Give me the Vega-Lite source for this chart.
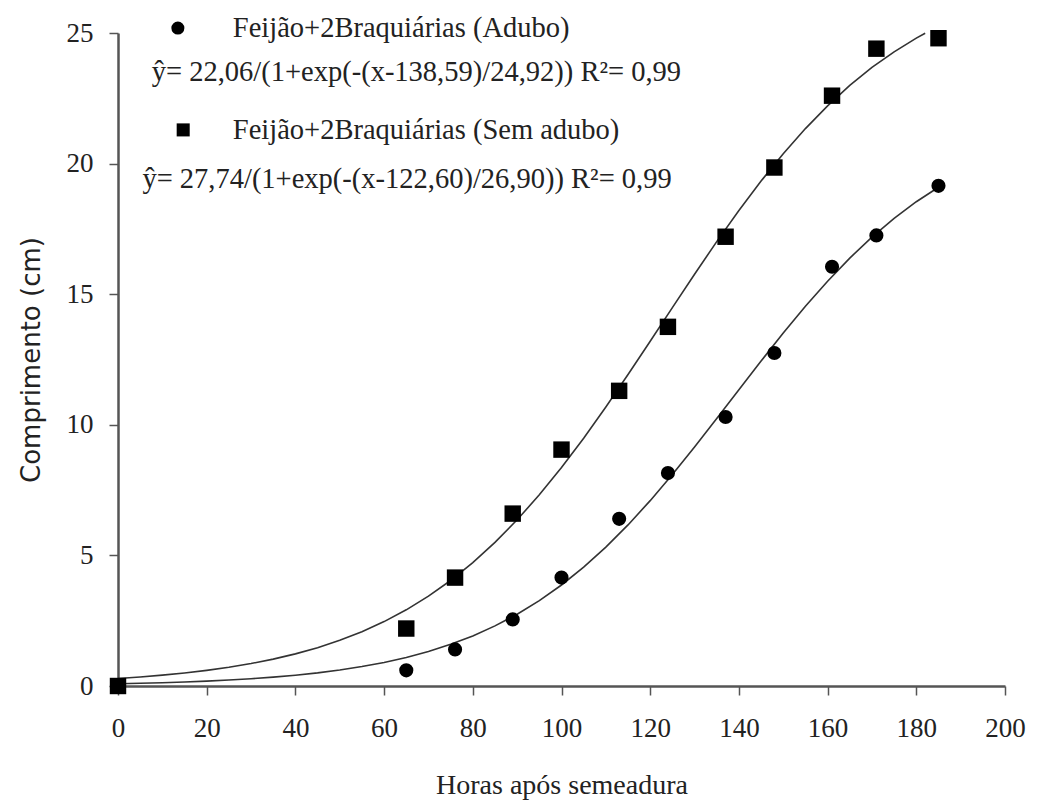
{
  "$schema": "https://vega.github.io/schema/vega-lite/v6.json",
  "width": 887,
  "height": 653,
  "autosize": {"type": "none"},
  "padding": {"left": 118, "top": 33, "right": 36, "bottom": 117},
  "background": "white",
  "config": {
    "view": {"stroke": null},
    "axis": {"grid": false, "domainColor": "#555", "domainWidth": 2.5, "tickColor": "#555", "tickWidth": 1.5, "tickSize": 9, "labelFont": "'Liberation Serif', 'Times New Roman', serif", "labelFontSize": 27, "labelColor": "#222", "titleColor": "#222", "titleFontWeight": "normal", "labelFlush": false}
  },
  "datasets": {
    "pts": [
      {"x": 0, "y": 0, "s": "Sem adubo"},
      {"x": 65, "y": 2.2, "s": "Sem adubo"},
      {"x": 76, "y": 4.15, "s": "Sem adubo"},
      {"x": 89, "y": 6.6, "s": "Sem adubo"},
      {"x": 100, "y": 9.05, "s": "Sem adubo"},
      {"x": 113, "y": 11.3, "s": "Sem adubo"},
      {"x": 124, "y": 13.75, "s": "Sem adubo"},
      {"x": 137, "y": 17.2, "s": "Sem adubo"},
      {"x": 148, "y": 19.85, "s": "Sem adubo"},
      {"x": 161, "y": 22.6, "s": "Sem adubo"},
      {"x": 171, "y": 24.4, "s": "Sem adubo"},
      {"x": 185, "y": 24.8, "s": "Sem adubo"},
      {"x": 0, "y": 0, "s": "Adubo"},
      {"x": 65, "y": 0.6, "s": "Adubo"},
      {"x": 76, "y": 1.4, "s": "Adubo"},
      {"x": 89, "y": 2.55, "s": "Adubo"},
      {"x": 100, "y": 4.15, "s": "Adubo"},
      {"x": 113, "y": 6.4, "s": "Adubo"},
      {"x": 124, "y": 8.15, "s": "Adubo"},
      {"x": 137, "y": 10.3, "s": "Adubo"},
      {"x": 148, "y": 12.75, "s": "Adubo"},
      {"x": 161, "y": 16.05, "s": "Adubo"},
      {"x": 171, "y": 17.25, "s": "Adubo"},
      {"x": 185, "y": 19.15, "s": "Adubo"}
    ],
    "curves": [
      {"x": 0, "y": 0.084, "s": "Adubo"}, {"x": 5, "y": 0.103, "s": "Adubo"}, {"x": 10, "y": 0.126, "s": "Adubo"}, {"x": 15, "y": 0.154, "s": "Adubo"}, {"x": 20, "y": 0.188, "s": "Adubo"}, {"x": 25, "y": 0.229, "s": "Adubo"}, {"x": 30, "y": 0.279, "s": "Adubo"}, {"x": 35, "y": 0.34, "s": "Adubo"}, {"x": 40, "y": 0.414, "s": "Adubo"}, {"x": 45, "y": 0.504, "s": "Adubo"}, {"x": 50, "y": 0.613, "s": "Adubo"}, {"x": 55, "y": 0.745, "s": "Adubo"}, {"x": 60, "y": 0.903, "s": "Adubo"}, {"x": 65, "y": 1.094, "s": "Adubo"}, {"x": 70, "y": 1.323, "s": "Adubo"}, {"x": 75, "y": 1.595, "s": "Adubo"}, {"x": 80, "y": 1.918, "s": "Adubo"}, {"x": 85, "y": 2.301, "s": "Adubo"}, {"x": 90, "y": 2.748, "s": "Adubo"}, {"x": 95, "y": 3.268, "s": "Adubo"}, {"x": 100, "y": 3.867, "s": "Adubo"}, {"x": 105, "y": 4.549, "s": "Adubo"}, {"x": 110, "y": 5.316, "s": "Adubo"}, {"x": 115, "y": 6.167, "s": "Adubo"}, {"x": 120, "y": 7.096, "s": "Adubo"}, {"x": 125, "y": 8.095, "s": "Adubo"}, {"x": 130, "y": 9.148, "s": "Adubo"}, {"x": 135, "y": 10.237, "s": "Adubo"}, {"x": 140, "y": 11.342, "s": "Adubo"}, {"x": 145, "y": 12.441, "s": "Adubo"}, {"x": 150, "y": 13.512, "s": "Adubo"}, {"x": 155, "y": 14.536, "s": "Adubo"}, {"x": 160, "y": 15.497, "s": "Adubo"}, {"x": 165, "y": 16.383, "s": "Adubo"}, {"x": 170, "y": 17.188, "s": "Adubo"}, {"x": 175, "y": 17.906, "s": "Adubo"}, {"x": 180, "y": 18.541, "s": "Adubo"}, {"x": 185, "y": 19.095, "s": "Adubo"},
      {"x": 0, "y": 0.288, "s": "Sem adubo"}, {"x": 5, "y": 0.346, "s": "Sem adubo"}, {"x": 10, "y": 0.416, "s": "Sem adubo"}, {"x": 15, "y": 0.499, "s": "Sem adubo"}, {"x": 20, "y": 0.599, "s": "Sem adubo"}, {"x": 25, "y": 0.718, "s": "Sem adubo"}, {"x": 30, "y": 0.86, "s": "Sem adubo"}, {"x": 35, "y": 1.029, "s": "Sem adubo"}, {"x": 40, "y": 1.23, "s": "Sem adubo"}, {"x": 45, "y": 1.468, "s": "Sem adubo"}, {"x": 50, "y": 1.749, "s": "Sem adubo"}, {"x": 55, "y": 2.08, "s": "Sem adubo"}, {"x": 60, "y": 2.466, "s": "Sem adubo"}, {"x": 65, "y": 2.917, "s": "Sem adubo"}, {"x": 70, "y": 3.439, "s": "Sem adubo"}, {"x": 75, "y": 4.039, "s": "Sem adubo"}, {"x": 80, "y": 4.723, "s": "Sem adubo"}, {"x": 85, "y": 5.497, "s": "Sem adubo"}, {"x": 90, "y": 6.362, "s": "Sem adubo"}, {"x": 95, "y": 7.319, "s": "Sem adubo"}, {"x": 100, "y": 8.363, "s": "Sem adubo"}, {"x": 105, "y": 9.487, "s": "Sem adubo"}, {"x": 110, "y": 10.679, "s": "Sem adubo"}, {"x": 115, "y": 11.924, "s": "Sem adubo"}, {"x": 120, "y": 13.2, "s": "Sem adubo"}, {"x": 125, "y": 14.487, "s": "Sem adubo"}, {"x": 130, "y": 15.764, "s": "Sem adubo"}, {"x": 135, "y": 17.013, "s": "Sem adubo"}, {"x": 140, "y": 18.207, "s": "Sem adubo"}, {"x": 145, "y": 19.334, "s": "Sem adubo"}, {"x": 150, "y": 20.38, "s": "Sem adubo"}, {"x": 155, "y": 21.341, "s": "Sem adubo"}, {"x": 160, "y": 22.21, "s": "Sem adubo"}, {"x": 165, "y": 22.991, "s": "Sem adubo"}, {"x": 170, "y": 23.682, "s": "Sem adubo"}, {"x": 175, "y": 24.278, "s": "Sem adubo"}, {"x": 180, "y": 24.803, "s": "Sem adubo"}, {"x": 182, "y": 24.993, "s": "Sem adubo"}
    ],
    "legsym": [
      {"x": 13.5, "y": 25.19, "s": "Adubo"},
      {"x": 14.7, "y": 21.29, "s": "Sem adubo"}
    ],
    "legtext": [
      {"x": 25.9, "y": 25.19, "t": "Feijão+2Braquiárias (Adubo)"},
      {"x": 7.6, "y": 23.5, "t": "ŷ= 22,06/(1+exp(-(x-138,59)/24,92))  R²= 0,99"},
      {"x": 25.9, "y": 21.29, "t": "Feijão+2Braquiárias (Sem adubo)"},
      {"x": 5.5, "y": 19.4, "t": "ŷ= 27,74/(1+exp(-(x-122,60)/26,90))  R²= 0,99"}
    ]
  },
  "layer": [
    {
      "data": {"name": "curves"},
      "mark": {"type": "line", "color": "#333", "strokeWidth": 1.6, "clip": false},
      "encoding": {
        "x": {"field": "x", "type": "quantitative", "scale": {"domain": [0, 200], "nice": false}, "axis": {"values": [0, 20, 40, 60, 80, 100, 120, 140, 160, 180, 200], "title": "Horas após semeadura", "titleFont": "'Liberation Serif', 'Times New Roman', serif", "titleFontSize": 28, "titlePadding": 30, "labelPadding": 20}},
        "y": {"field": "y", "type": "quantitative", "scale": {"domain": [0, 25], "nice": false}, "axis": {"values": [0, 5, 10, 15, 20, 25], "title": "Comprimento (cm)", "titleFont": "DejaVu Sans", "titleFontSize": 26, "titlePadding": 22, "labelPadding": 16}},
        "detail": {"field": "s"}
      }
    },
    {
      "data": {"name": "pts"},
      "mark": {"type": "point", "filled": true, "color": "black", "opacity": 1, "clip": false},
      "encoding": {
        "x": {"field": "x", "type": "quantitative"},
        "y": {"field": "y", "type": "quantitative"},
        "shape": {"field": "s", "type": "nominal", "scale": {"domain": ["Adubo", "Sem adubo"], "range": ["circle", "square"]}, "legend": null},
        "size": {"field": "s", "type": "nominal", "scale": {"domain": ["Adubo", "Sem adubo"], "range": [200, 270]}, "legend": null}
      }
    },
    {
      "data": {"name": "legsym"},
      "mark": {"type": "point", "filled": true, "color": "black", "opacity": 1, "clip": false},
      "encoding": {
        "x": {"field": "x", "type": "quantitative"},
        "y": {"field": "y", "type": "quantitative"},
        "shape": {"field": "s", "type": "nominal", "scale": {"domain": ["Adubo", "Sem adubo"], "range": ["circle", "square"]}, "legend": null},
        "size": {"value": 170}
      }
    },
    {
      "data": {"name": "legtext"},
      "mark": {"type": "text", "align": "left", "baseline": "middle", "font": "'Liberation Serif', 'Times New Roman', serif", "fontSize": 28.5, "color": "#222", "clip": false},
      "encoding": {
        "x": {"field": "x", "type": "quantitative"},
        "y": {"field": "y", "type": "quantitative"},
        "text": {"field": "t"}
      }
    }
  ]
}
